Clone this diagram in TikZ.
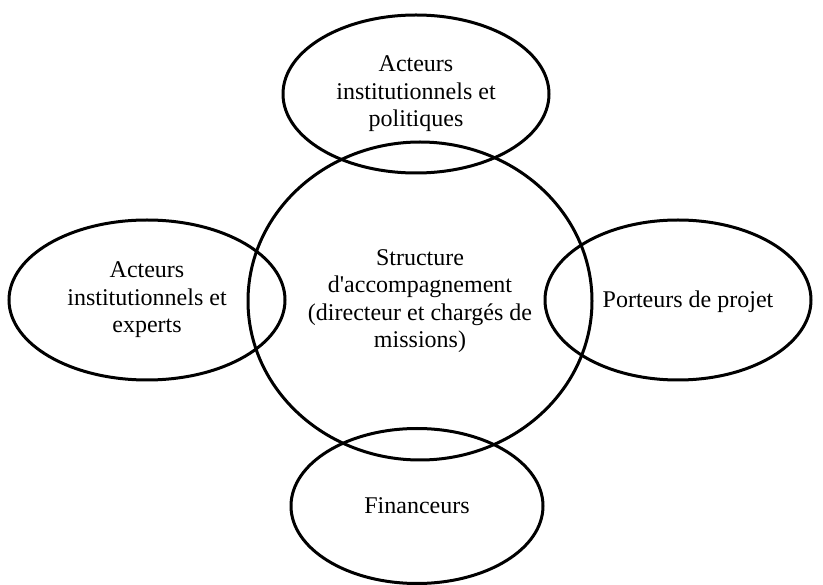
\documentclass[tikz,border=0pt]{standalone}
\usepackage{fontspec}
\setmainfont{Liberation Serif}[Ligatures=TeXOff]
\usetikzlibrary{shapes.geometric}
\begin{document}
\begin{tikzpicture}[x=1pt,y=-1pt,
  blob/.style={draw=black, line width=3pt, ellipse, inner sep=0pt, align=center,
    font=\fontsize{24}{27.5}\selectfont}]
\useasboundingbox (0,0) rectangle (823,585);
\node[blob, minimum width=344pt, minimum height=318pt] (centre) at (420,301)
  {Structure\\d'accompagnement\\(directeur et chargés de\\missions)};
\node[blob, minimum width=266pt, minimum height=158pt] (haut) at (416,94)
  {Acteurs\\institutionnels et\\politiques};
\node[blob, minimum width=276pt, minimum height=160pt] (gauche) at (147,300)
  {Acteurs\\institutionnels et\\experts};
\node[blob, minimum width=266pt, minimum height=160pt] (droite) at (678,300) {};
\node at (688,302) {\fontsize{24}{27.5}\selectfont Porteurs de projet};
\node[blob, minimum width=252pt, minimum height=155pt] (bas) at (417,506) {Financeurs};
\end{tikzpicture}
\end{document}
